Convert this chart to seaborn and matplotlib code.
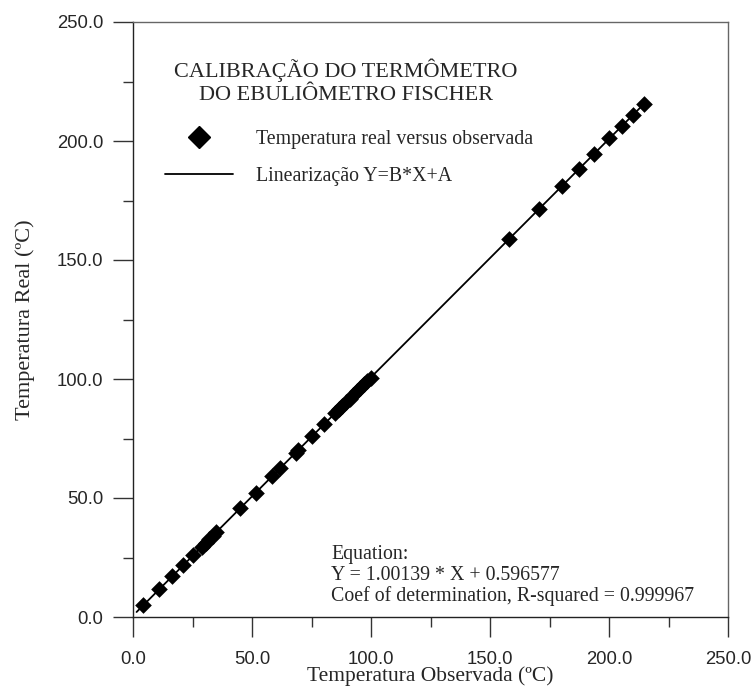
import matplotlib
matplotlib.use("Agg")
import matplotlib.pyplot as plt
import seaborn as sns
import pandas as pd
from matplotlib.lines import Line2D
from matplotlib.ticker import MultipleLocator, FormatStrFormatter

# ---- data ----
observada = [4.3, 11.0, 16.5, 21.1, 25.3, 29.0, 30.5, 32.0, 33.5, 35.0, 45.0, 51.5,
             58.5, 61.8, 68.3, 69.3, 75.2, 80.3, 85.0, 86.5, 88.0, 89.5, 91.0, 92.5,
             94.0, 95.5, 97.0, 98.5, 99.8, 158.1, 170.7, 180.3, 187.5, 193.8, 200.1,
             205.3, 209.9, 214.7]
real = [4.9, 11.6, 17.1, 21.7, 25.9, 29.6, 31.1, 32.6, 34.2, 35.6, 45.7, 52.2,
        59.2, 62.5, 69.0, 70.0, 75.9, 81.1, 85.7, 87.2, 88.7, 90.3, 91.7, 93.3,
        94.8, 96.3, 97.7, 99.2, 100.6, 158.9, 171.6, 181.2, 188.4, 194.7, 201.1,
        206.3, 210.8, 215.7]
coef_B = 1.00139
coef_A = 0.596577
line_x = [1.5, 216.0]
line_y = [coef_B * v + coef_A for v in line_x]

title_lines = ["CALIBRAÇÃO DO TERMÔMETRO", "DO EBULIÔMETRO FISCHER"]
legend_labels = ["Temperatura real versus observada", "Linearização Y=B*X+A"]
eq_lines = ["Equation:", "Y = 1.00139 * X + 0.596577",
            "Coef of determination, R-squared = 0.999967"]
xlabel = "Temperatura Observada (ºC)"
ylabel = "Temperatura Real (ºC)"

sns.set_theme(style="white")
plt.rcParams['font.family'] = ['Liberation Serif', 'DejaVu Serif']

W, H = 753, 690
fig = plt.figure(figsize=(W / 100, H / 100), dpi=100)
ax = fig.add_axes([133 / W, 1 - 617 / H, (728 - 133) / W, (617 - 22) / H])

df_pts = pd.DataFrame({"x": observada, "y": real})
df_line = pd.DataFrame({"x": line_x, "y": line_y})

sns.lineplot(data=df_line, x="x", y="y", ax=ax, color="black", linewidth=1.3, zorder=2)
sns.scatterplot(data=df_pts, x="x", y="y", ax=ax, marker="D", s=72, color="black",
                edgecolor="black", linewidth=0, zorder=3)

ax.set_xlim(0, 250)
ax.set_ylim(0, 250)
ax.xaxis.set_major_locator(MultipleLocator(50))
ax.xaxis.set_minor_locator(MultipleLocator(25))
ax.yaxis.set_major_locator(MultipleLocator(50))
ax.yaxis.set_minor_locator(MultipleLocator(25))
ax.xaxis.set_major_formatter(FormatStrFormatter("%.1f"))
ax.yaxis.set_major_formatter(FormatStrFormatter("%.1f"))

ax.tick_params(axis="both", which="major", direction="out", length=14.4, width=1,
               color="#333333", labelsize=13.3, pad=7, bottom=True, left=True)
ax.tick_params(axis="both", which="minor", direction="out", length=7.5, width=1,
               color="#333333", bottom=True, left=True)
ax.tick_params(axis="x", which="major", pad=10)
for lab in ax.get_xticklabels() + ax.get_yticklabels():
    lab.set_fontfamily("Liberation Sans")

for side in ["left", "bottom"]:
    ax.spines[side].set_color("#222222")
    ax.spines[side].set_linewidth(1.0)
for side in ["top", "right"]:
    ax.spines[side].set_visible(True)
    ax.spines[side].set_color("#666666")
    ax.spines[side].set_linewidth(1.0)

ax.set_xlabel(xlabel, fontsize=15.5, labelpad=-1)
ax.set_ylabel(ylabel, fontsize=16, labelpad=16)

# title inside the plot
ax.text((346 - 133) / 595, (617 - 58) / 595, title_lines[0] + "\n" + title_lines[1],
        transform=ax.transAxes, ha="center", va="top", fontsize=16, linespacing=1.3)

# legend
handles = [Line2D([], [], marker="D", color="black", linestyle="none", markersize=11.5),
           Line2D([], [], color="black", linewidth=1.3)]
leg = ax.legend(handles, legend_labels, loc="upper left",
                bbox_to_anchor=((165 - 133) / 595, (617 - 130) / 595),
                frameon=False, fontsize=14.3, handlelength=3.4, handletextpad=1.2,
                labelspacing=0.92, borderpad=0, borderaxespad=0)

# equation block
ax.text((331 - 133) / 595, (617 - 545) / 595, "\n".join(eq_lines), transform=ax.transAxes,
        ha="left", va="top", fontsize=14.3, linespacing=1.12)

fig.savefig("out.png", dpi=100)
